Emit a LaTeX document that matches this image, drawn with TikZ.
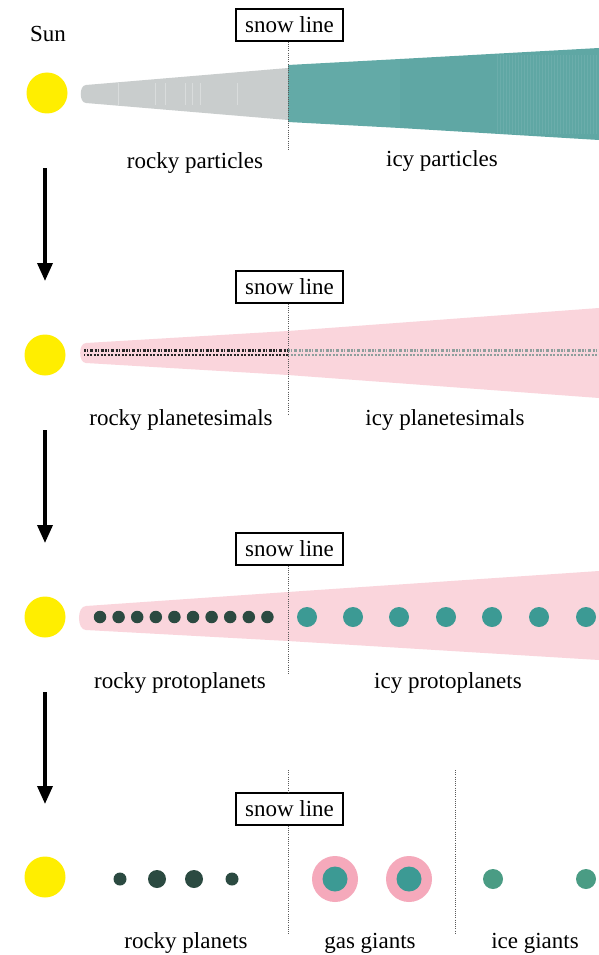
\documentclass[tikz,border=0pt]{standalone}
\usepackage{fontspec}
\setmainfont{Liberation Serif}
\usetikzlibrary{arrows.meta}
\definecolor{sunY}{HTML}{FFEE00}
\definecolor{rockG}{HTML}{C9CDCD}
\definecolor{icyT}{HTML}{5FA7A4}
\definecolor{icyTl}{HTML}{63AAA7}
\definecolor{diskP}{HTML}{FAD5DC}
\definecolor{darkD}{HTML}{2B4A41}
\definecolor{tealD}{HTML}{3C9A94}
\definecolor{iceD}{HTML}{4A9C84}
\definecolor{haloP}{HTML}{F5A9BB}
\definecolor{grainL}{HTML}{8E9E9C}
\begin{document}
\begin{tikzpicture}[x=1pt,y=-1pt,
  lbl/.style={font=\fontsize{23}{28}\selectfont, anchor=base, inner sep=0pt},
  snowbox/.style={draw=black, line width=1.1pt, fill=white, minimum width=107pt, minimum height=32pt, inner sep=0pt, font=\fontsize{23}{28}\selectfont},
  snowdot/.style={draw=black!65, line width=0.8pt, dash pattern=on 1pt off 1.2pt},
  sunball/.style={circle, fill=sunY, minimum size=41pt, inner sep=0pt},
  flow/.style={line width=3.5pt, -{Triangle[length=18pt,width=15pt]}},
  rockdot/.style={circle, fill=darkD, inner sep=0pt},
  icydot/.style={circle, fill=tealD, inner sep=0pt, minimum size=20pt},
  grainA/.style={line width=2.4pt, dash pattern=on 2pt off 1pt on 1pt off 2pt on 3pt off 1.5pt},
  grainB/.style={line width=2.4pt, dash pattern=on 1.5pt off 2pt on 2.5pt off 1pt, dash phase=1pt}
]
\useasboundingbox (0,0) rectangle (599,955);
\fill[white] (0,0) rectangle (599,955);

% ---------- Panel 1 ----------
\node[lbl] (sunlbl) at (48,42) {Sun};
\node[sunball] (sun1) at (47,93) {};
\fill[rockG] (86,85) -- (288,68) -- (288,120) -- (86,103) to[out=180,in=180] cycle;
\fill[icyTl] (288,65) -- (400,59) -- (400,128) -- (288,122) -- cycle;
\fill[icyT] (400,59) -- (599,48) -- (599,140) -- (400,128) -- cycle;
\foreach \xx in {118,155,165,185,192,200,237}
  \draw[white, opacity=0.3, line width=0.6pt] (\xx,83) -- (\xx,105);
\foreach \xx in {497,500,...,596}
  \draw[white, opacity=0.08, line width=0.6pt] (\xx,55) -- (\xx,134);
\node[snowbox] (sb1) at (289.5,25) {snow line};
\coordinate (d1) at (288,150);
\draw[snowdot] (sb1.south -| d1) -- (d1);
\node[lbl] (l1a) at (195,168) {rocky particles};
\node[lbl] (l1b) at (442,166) {icy particles};

% arrows
\coordinate (a1s) at (45,168); \coordinate (a1e) at (45,281);
\coordinate (a2s) at (45,430); \coordinate (a2e) at (45,543);
\coordinate (a3s) at (45,692); \coordinate (a3e) at (45,804);
\draw[flow] (a1s) -- (a1e);
\draw[flow] (a2s) -- (a2e);
\draw[flow] (a3s) -- (a3e);

% ---------- Panel 2 ----------
\node[sunball] (sun2) at (45,355) {};
\fill[diskP] (86,343) -- (288,331) -- (599,308) -- (599,398) -- (288,375) -- (86,363) to[out=180,in=180] cycle;
\draw[grainA, black!85] (84,350.5) -- (288,350.5);
\draw[grainB, black!85] (84,355) -- (288,355);
\draw[grainA, grainL] (288,350.5) -- (599,350.5);
\draw[grainB, grainL] (288,355) -- (599,355);
\node[snowbox] (sb2) at (289.5,287) {snow line};
\coordinate (d2) at (288,415);
\draw[snowdot] (sb2.south -| d2) -- (d2);
\node[lbl] (l2a) at (181,425) {rocky planetesimals};
\node[lbl] (l2b) at (445,425) {icy planetesimals};

% ---------- Panel 3 ----------
\node[sunball] (sun3) at (45,617) {};
\fill[diskP] (86,606) -- (288,592) -- (599,571) -- (599,660) -- (288,641) -- (86,630) to[out=180,in=180] cycle;
\foreach \xx [count=\i] in {100,118.6,137.2,155.8,174.4,193,211.6,230.2,248.8,267.4}
  \node[rockdot, minimum size=12.5pt] (rp\i) at (\xx,617) {};
\foreach \xx [count=\i] in {307,353,399,446,492,539,586}
  \node[icydot] (ip\i) at (\xx,617) {};
\node[snowbox] (sb3) at (289.5,549) {snow line};
\coordinate (d3) at (288,675);
\draw[snowdot] (sb3.south -| d3) -- (d3);
\node[lbl] (l3a) at (180,688) {rocky protoplanets};
\node[lbl] (l3b) at (448,688) {icy protoplanets};

% ---------- Panel 4 ----------
\node[sunball] (sun4) at (45,877) {};
\node[rockdot, minimum size=13pt] (pl1) at (120,879) {};
\node[rockdot, minimum size=18pt] (pl2) at (157,879) {};
\node[rockdot, minimum size=18pt] (pl3) at (194,879) {};
\node[rockdot, minimum size=13pt] (pl4) at (232,879) {};
\node[circle, fill=haloP, minimum size=46pt, inner sep=0pt] (gh1) at (335,879) {};
\node[circle, fill=tealD, minimum size=25pt, inner sep=0pt] (gg1) at (335,879) {};
\node[circle, fill=haloP, minimum size=46pt, inner sep=0pt] (gh2) at (409,879) {};
\node[circle, fill=tealD, minimum size=25pt, inner sep=0pt] (gg2) at (409,879) {};
\node[circle, fill=iceD, minimum size=20pt, inner sep=0pt] (ig1) at (493,879) {};
\node[circle, fill=iceD, minimum size=20pt, inner sep=0pt] (ig2) at (586,879) {};
\node[snowbox] (sb4) at (289.5,809) {snow line};
\coordinate (d4t) at (288,770);
\coordinate (d4b) at (288,935);
\draw[snowdot] (d4t) -- (sb4.north -| d4t);
\draw[snowdot] (sb4.south -| d4b) -- (d4b);
\coordinate (e4t) at (455,770);
\coordinate (e4b) at (455,935);
\draw[snowdot] (e4t) -- (e4b);
\node[lbl] (l4a) at (186,948) {rocky planets};
\node[lbl] (l4b) at (370,948) {gas giants};
\node[lbl] (l4c) at (535,948) {ice giants};
\end{tikzpicture}
\end{document}
